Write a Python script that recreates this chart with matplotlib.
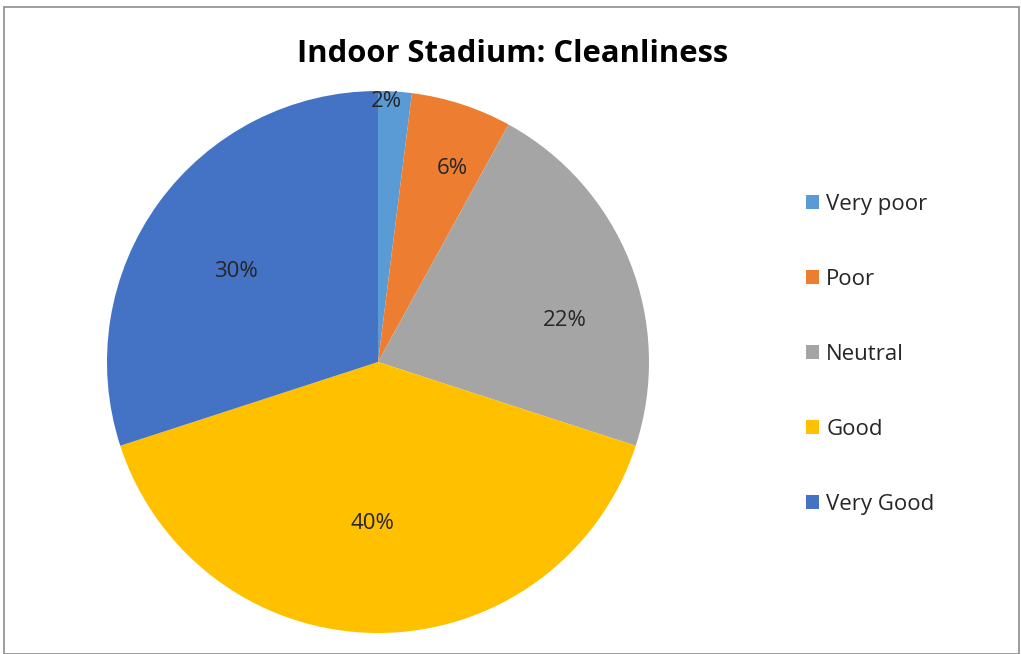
import matplotlib
matplotlib.use("Agg")
import matplotlib.pyplot as plt
import numpy as np
from matplotlib.patches import Rectangle

categories = ["Very poor", "Poor", "Neutral", "Good", "Very Good"]
values = [2, 6, 22, 40, 30]
colors = ["#5B9BD5", "#ED7D31", "#A5A5A5", "#FFC000", "#4472C4"]
# label placement (polar, relative to pie radius) - style only
label_dist = [0.963, 0.766, 0.706, 0.598, 0.62]
label_ang = [88.2, 69.1, 12.4, -91.8, 147.6]

plt.rcParams['font.family'] = ['Open Sans', 'DejaVu Sans']

fig = plt.figure(figsize=(10.21, 6.54), dpi=100)
W, H = 1021, 654
cx, cy, r = 378, 362, 271
ax = fig.add_axes([(cx - r) / W, 1 - (cy + r) / H, 2 * r / W, 2 * r / H])
wedges, texts = ax.pie(values, colors=colors, startangle=90, counterclock=False,
                       radius=1.0, wedgeprops=dict(linewidth=0))
ax.set_xlim(-1, 1)
ax.set_ylim(-1, 1)
ax.set_aspect('equal')
ax.axis('off')

total = sum(values)
for v, d, a in zip(values, label_dist, label_ang):
    ang = np.deg2rad(a)
    ax.text(d * np.cos(ang), d * np.sin(ang), f"{round(100 * v / total)}%",
            ha='center', va='center', fontsize=16, color='#262626')

fig.text(513 / W, 1 - 54 / H, "Indoor Stadium: Cleanliness", ha='center', va='center',
         fontsize=22.3, fontweight='bold', color='#000000')

leg = fig.legend(wedges, categories, loc='upper left', bbox_to_anchor=(806 / W, 1 - 194 / H),
                 frameon=False, fontsize=16, handlelength=0.59, handleheight=0.59,
                 handletextpad=0.32, labelspacing=2.43, labelcolor='#262626',
                 borderpad=0, borderaxespad=0)

fig.add_artist(Rectangle((4 / W, 0), (1019 - 4) / W, 1 - 7 / H, transform=fig.transFigure,
                         fill=False, edgecolor='#8c8c8c', linewidth=1.2))

fig.savefig("out.png", dpi=100)
